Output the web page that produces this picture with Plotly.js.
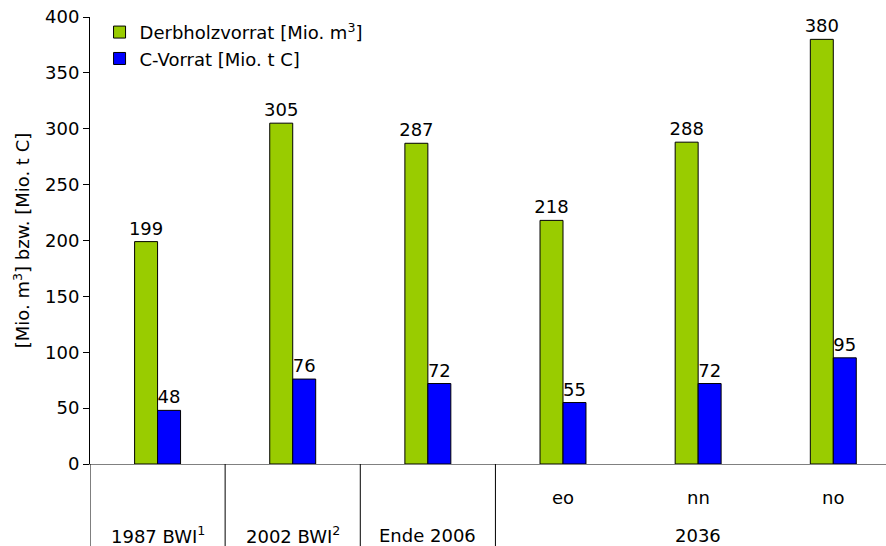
<!DOCTYPE html>
<html>
<head>
<meta charset="utf-8">
<script src="https://cdn.plot.ly/plotly-3.0.1.min.js"></script>
<style>html,body{margin:0;padding:0;background:#fff;}#chart{width:886px;height:546px;}</style>
</head>
<body>
<div id="chart"></div>
<script>
const positions = [0, 1, 2, 3, 4, 5];
const derbholz = [199, 305, 287, 218, 288, 380];
const cVorrat = [48, 76, 72, 55, 72, 95];
const seriesNames = ["Derbholzvorrat [Mio. m<sup>3</sup>]", "C-Vorrat [Mio. t C]"];
const subLabels = ["", "", "", "eo", "nn", "no"];
const groupLabels = ["1987 BWI<sup>1</sup>", "2002 BWI<sup>2</sup>", "Ende 2006", "", "2036", ""];
const separators = [-0.5, 0.5, 1.5, 2.5];

const FONT = "DejaVu Sans, Liberation Sans, Arial, sans-serif";
const FS = 18;

const traces = [
  {type: "bar", name: seriesNames[0], x: positions, y: derbholz, text: derbholz.map(String),
   textposition: "outside", constraintext: "none", textfont: {size: FS, color: "#000", family: FONT}, cliponaxis: false,
   marker: {color: "#99cc00", line: {color: "#000", width: 1}}},
  {type: "bar", name: seriesNames[1], x: positions, y: cVorrat, text: cVorrat.map(String),
   textposition: "outside", constraintext: "none", textfont: {size: FS, color: "#000", family: FONT}, cliponaxis: false,
   marker: {color: "#0000ff", line: {color: "#000", width: 1}}}
];

const annotations = [];
subLabels.forEach((t, i) => { if (t) annotations.push({x: positions[i], y: -0.074, xref: "x", yref: "paper", text: t, showarrow: false, font: {size: FS, color: "#000", family: FONT}, yanchor: "middle"}); });
groupLabels.forEach((t, i) => { if (t) annotations.push({x: positions[i], y: -0.159, xref: "x", yref: "paper", text: t, showarrow: false, font: {size: FS, color: "#000", family: FONT}, yanchor: "middle"}); });

const shapes = separators.map(s => ({type: "line", xref: "x", yref: "paper", x0: s, x1: s, y0: 0, y1: -0.25, line: {color: "#000", width: 1}}));

const layout = {
  width: 886, height: 546,
  margin: {l: 90, r: 0, t: 17, b: 82},
  paper_bgcolor: "#fff", plot_bgcolor: "#fff",
  font: {family: FONT, size: FS, color: "#000"},
  barmode: "group", bargap: 0.66, bargroupgap: 0,
  showlegend: true,
  legend: {x: 0.012, y: 1.007, xanchor: "left", yanchor: "top", bgcolor: "rgba(0,0,0,0)", font: {size: FS, family: FONT}, tracegroupgap: 0},
  xaxis: {range: [-0.5, 5.39], showticklabels: false, ticks: "", showgrid: false, zeroline: false, showline: true, linecolor: "#808080", linewidth: 1, fixedrange: true},
  yaxis: {range: [0, 400], dtick: 50, ticks: "outside", ticklen: 6, tickcolor: "#000", showgrid: false, zeroline: false, showline: true, linecolor: "#000", linewidth: 1,
          tickfont: {size: FS, family: FONT}, title: {text: "[Mio. m<sup>3</sup>] bzw. [Mio. t C]", font: {size: FS, family: FONT}, standoff: 10}},
  annotations: annotations,
  shapes: shapes
};

Plotly.newPlot("chart", traces, layout, {displayModeBar: false, staticPlot: true});
</script>
</body>
</html>
